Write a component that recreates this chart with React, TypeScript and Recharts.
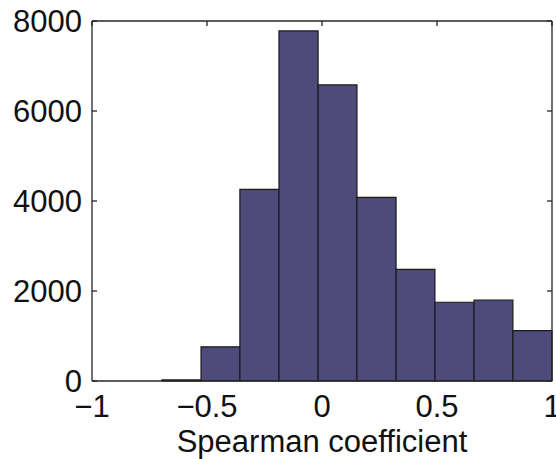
import React from 'react';
import { ComposedChart, XAxis, YAxis, ReferenceArea } from 'recharts';

// Histogram bin edges (Spearman coefficient) and counts per bin
const binEdges = [-0.696, -0.526, -0.357, -0.187, -0.017, 0.152, 0.322, 0.491, 0.661, 0.83, 1.0];
const counts = [25, 760, 4260, 7780, 6580, 4080, 2480, 1750, 1800, 1120];
const xTicks = [-1, -0.5, 0, 0.5, 1];
const yTicks = [0, 2000, 4000, 6000, 8000];
const xLabel = 'Spearman coefficient';

const bins = counts.map((c, i) => ({ x0: binEdges[i], x1: binEdges[i + 1], count: c }));

const FONT = '"Liberation Sans", Arial, Helvetica, sans-serif';
const AXIS = '#262626';
const BAR = '#4e4a79';

const fmt = (v: number) => String(v).replace('-', '\u2212');
const NoLabel = () => <g />;

export default function App() {
  const tickStyle = { fontSize: 31, fill: '#111', fontFamily: FONT };
  return (
    <div style={{ position: 'absolute', left: 0, top: 0, background: '#fff' }}>
      <ComposedChart
        width={556}
        height={459}
        data={bins}
        margin={{ top: 20, right: 3, bottom: 0, left: 0 }}
      >
        <XAxis
          xAxisId="b"
          type="number"
          dataKey="x0"
          domain={[-1, 1]}
          ticks={xTicks}
          interval={0}
          orientation="bottom"
          height={78}
          tickLine={false}
          tickSize={0}
          tickMargin={14}
          tick={tickStyle}
          tickFormatter={fmt}
          axisLine={{ stroke: AXIS, strokeWidth: 1.3 }}
          label={{ value: xLabel, position: 'insideBottom', offset: 7, fontSize: 31, fill: '#111', fontFamily: FONT }}
        />
        <XAxis
          xAxisId="t"
          type="number"
          dataKey="x0"
          domain={[-1, 1]}
          ticks={xTicks}
          interval={0}
          orientation="top"
          height={1}
          tick={NoLabel}
          tickSize={-5}
          tickLine={{ stroke: AXIS, strokeWidth: 1.3 }}
          axisLine={{ stroke: AXIS, strokeWidth: 1.3 }}
        />
        <YAxis
          yAxisId="l"
          type="number"
          dataKey="count"
          domain={[0, 8000]}
          ticks={yTicks}
          interval={0}
          orientation="left"
          width={92}
          tickSize={-5}
          tickMargin={15}
          tick={tickStyle}
          tickLine={{ stroke: AXIS, strokeWidth: 1.3 }}
          axisLine={{ stroke: AXIS, strokeWidth: 1.3 }}
        />
        <YAxis
          yAxisId="r"
          type="number"
          dataKey="count"
          domain={[0, 8000]}
          ticks={yTicks}
          interval={0}
          orientation="right"
          width={1}
          tick={NoLabel}
          tickSize={-5}
          tickLine={{ stroke: AXIS, strokeWidth: 1.3 }}
          axisLine={{ stroke: AXIS, strokeWidth: 1.3 }}
        />
        {bins.map((b, i) => (
          <ReferenceArea
            key={i}
            xAxisId="b"
            yAxisId="l"
            x1={b.x0}
            x2={b.x1}
            y1={0}
            y2={b.count}
            fill={BAR}
            fillOpacity={1}
            stroke="#1a1a1a"
            strokeWidth={1.2}
            strokeOpacity={1}
            ifOverflow="visible"
          />
        ))}
      </ComposedChart>
    </div>
  );
}
